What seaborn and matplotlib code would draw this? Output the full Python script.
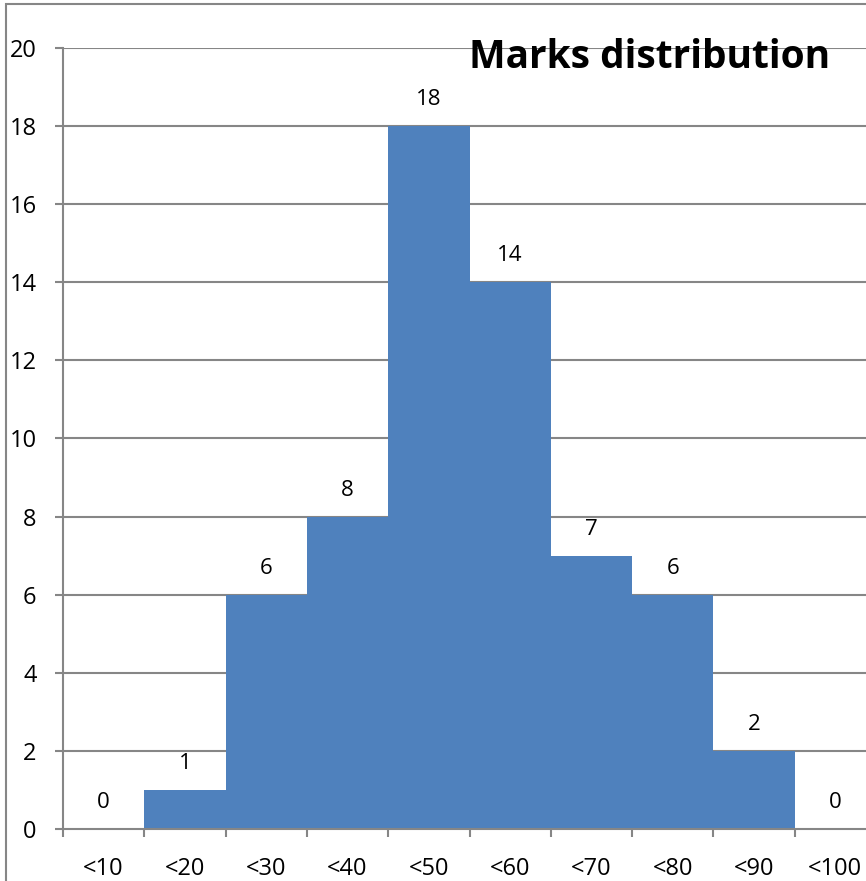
import matplotlib
matplotlib.use("Agg")
import matplotlib.pyplot as plt
import matplotlib.patches as patches
import seaborn as sns

# Datos del gráfico
categorias = ["<10", "<20", "<30", "<40", "<50", "<60", "<70", "<80", "<90", "<100"]
frecuencias = [0, 1, 6, 8, 18, 14, 7, 6, 2, 0]
y_ticks = [0, 2, 4, 6, 8, 10, 12, 14, 16, 18, 20]

sns.set_style("white")
plt.rcParams['font.family'] = ['Open Sans', 'DejaVu Sans']

fig = plt.figure(figsize=(8.66, 8.81), dpi=100)
W, H = 866, 881
ax = fig.add_axes([63 / W, (H - 829) / H, 813 / W, 781 / H])

gris = "#868686"
for t in y_ticks[1:]:
    ax.axhline(t, color=gris, linewidth=1.5, zorder=0)

sns.barplot(x=categorias, y=frecuencias, color="#4F81BD", width=1.0,
            saturation=1, linewidth=0, ax=ax, zorder=2)

ax.set_xlim(-0.5, len(categorias) - 0.5)
ax.set_ylim(0, 20)
ax.set_yticks(y_ticks)
ax.set_yticklabels([str(t) for t in y_ticks], fontsize=17, color="black")
ax.set_xticks(range(len(categorias)))
ax.set_xticklabels(categorias, fontsize=17, color="black")
ax.set_xticks([i - 0.5 for i in range(len(categorias) + 1)], minor=True)
ax.tick_params(axis='x', which='major', bottom=True, length=0, pad=20)
ax.tick_params(axis='x', which='minor', bottom=True, length=6, width=1.5,
               color=gris, direction='out')
ax.tick_params(axis='y', left=True, length=6, width=1.5, color=gris,
               direction='out', pad=13)

for side in ["top", "right"]:
    ax.spines[side].set_visible(False)
for side in ["left", "bottom"]:
    ax.spines[side].set_color(gris)
    ax.spines[side].set_linewidth(1.5)

ax.set_xlabel("")
ax.set_ylabel("")

# Etiquetas de valores
for i, v in enumerate(frecuencias):
    ax.annotate(str(v), (i, v), xytext=(0, 19), textcoords='offset points',
                ha='center', va='center', fontsize=16, color="black")

fig.text(650 / W, 1 - 57 / H, "Marks distribution", fontsize=28,
         fontweight='bold', ha='center', va='center', color="black")

# Borde del área del gráfico
fig.patches.append(patches.Rectangle((6 / W, -0.1), 1.2, 1 - 4 / H + 0.1,
                                     transform=fig.transFigure, fill=False,
                                     edgecolor=gris, linewidth=1.5))

fig.savefig("out.png", dpi=100)
